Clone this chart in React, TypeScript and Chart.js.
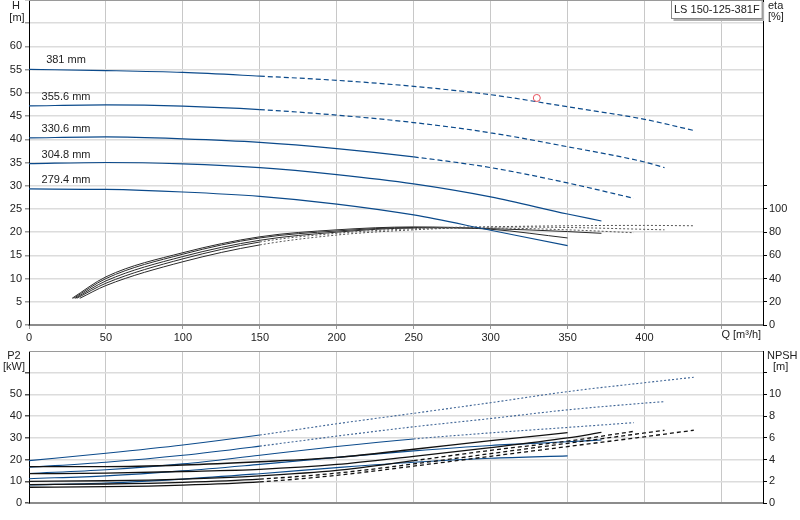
import { useEffect, useRef } from "react"
import { Chart, registerables, type ChartConfiguration, type Plugin } from "chart.js"

Chart.register(...registerables)

const pumpName = "LS 150-125-381F"
const impellers = [381, 355.6, 330.6, 304.8, 279.4]
// flow [m3/h] where each curve leaves the recommended range (drawn dashed)
const dashFrom = [135, 165, 245, null, null]

// flow points for H, P2 and NPSH of each impeller
const q381 = [0, 50, 100, 150, 200, 250, 300, 350, 400, 432]
const q355 = [0, 50, 100, 150, 200, 250, 300, 350, 400, 413]
const q330 = [0, 50, 100, 150, 200, 250, 300, 350, 393]
const q304 = [0, 50, 100, 150, 200, 250, 300, 350, 372]
const q279 = [0, 50, 100, 150, 200, 250, 300, 350]

// head H [m]
const h381 = [55.05, 54.8, 54.4, 53.6, 52.7, 51.4, 49.6, 47.0, 44.3, 41.9]
const h355 = [47.2, 47.4, 47.15, 46.4, 45.2, 43.6, 41.4, 38.4, 35.1, 33.9]
const h330 = [40.3, 40.5, 40.1, 39.35, 38.0, 36.2, 33.9, 30.6, 27.3]
const h304 = [34.75, 35.0, 34.7, 33.9, 32.4, 30.4, 27.6, 23.9, 22.4]
const h279 = [29.3, 29.2, 28.65, 27.7, 26.05, 23.7, 20.4, 17.1]

// efficiency eta [%]
const qe381 = [33, 50, 100, 150, 200, 250, 300, 350, 400, 432]
const e381 = [23, 34, 54.5, 69, 77.5, 82, 84.5, 85.5, 85.8, 85.5]
const qe355 = [31, 50, 100, 150, 200, 250, 300, 350, 413]
const e355 = [23, 36, 57, 71.5, 79, 83, 84.5, 84, 82]
const qe330 = [30, 50, 100, 150, 200, 250, 300, 350, 393]
const e330 = [23, 38, 59, 73, 80, 83.5, 83.5, 82, 79.5]
const qe304 = [29, 50, 100, 150, 200, 250, 300, 350, 372]
const e304 = [23, 40, 61, 75, 81, 84, 83, 80.5, 79]
const qe279 = [28, 50, 100, 150, 200, 250, 300, 350]
const e279 = [23, 41.5, 62.3, 76, 82, 84.5, 82.5, 75]

// shaft power P2 [kW]
const p381 = [19.5, 22.9, 26.7, 31.3, 36.5, 41.3, 46.2, 51.3, 55.4, 57.9]
const p355 = [16.5, 18.8, 22.0, 26.2, 30.8, 35.1, 38.9, 42.9, 46.0, 46.7]
const p330 = [13.6, 15.3, 18.0, 22.0, 26.0, 29.5, 32.3, 34.8, 37.0]
const p304 = [11.2, 12.5, 14.8, 17.8, 21.0, 24.0, 26.5, 28.2, 29.0]
const p279 = [8.3, 9.2, 11.0, 13.5, 16.3, 18.8, 20.6, 21.7]

// NPSH [m]
const n381 = [1.45, 1.5, 1.65, 1.95, 2.55, 3.4, 4.3, 5.2, 6.1, 6.7]
const n355 = [1.7, 1.75, 1.9, 2.2, 2.75, 3.6, 4.55, 5.5, 6.45, 6.7]
const n330 = [2.0, 2.05, 2.2, 2.5, 3.0, 3.9, 4.85, 5.7, 6.6]
const n304 = [2.7, 2.75, 2.9, 3.1, 3.55, 4.3, 5.1, 6.0, 6.5]
const n279 = [3.35, 3.35, 3.5, 3.8, 4.2, 4.95, 5.74, 6.48]

// duty point
const dutyQ = [330]
const dutyH = [48.9]

const qList = [q381, q355, q330, q304, q279]
const hList = [h381, h355, h330, h304, h279]
const qeList = [qe381, qe355, qe330, qe304, qe279]
const eList = [e381, e355, e330, e304, e279]
const pList = [p381, p355, p330, p304, p279]
const nList = [n381, n355, n330, n304, n279]

const blue = "#0b4a8b"
const font = '"Liberation Sans", Arial, sans-serif'

Chart.defaults.font.family = font
Chart.defaults.font.size = 11
Chart.defaults.color = "#222"

const pts = (xs: number[], ys: number[]) => xs.map((x, i) => ({ x, y: ys[i] }))

const outside = (c: any, from: number | null) => from !== null && (c.p0.parsed.x + c.p1.parsed.x) / 2 >= from

const dashAfter = (from: number | null, dash: number[], dashColor?: string) => ({
  borderDash: (c: any) => (outside(c, from) ? dash : undefined),
  borderColor: (c: any) => (dashColor && outside(c, from) ? dashColor : undefined),
})

// fixed axis sizes so the plot area sits where it does in the original
const fitWidth = (w: number) => (scale: any) => {
  scale.width = w
  scale.paddingTop = 0
  scale.paddingBottom = 0
}
const fitHeight = (h: number) => (scale: any) => {
  scale.height = h
  scale.paddingLeft = 0
  scale.paddingRight = 0
}

const xScale = (showLabels: boolean, height: number) => ({
  type: "linear" as const,
  min: 0,
  max: 477,
  afterFit: fitHeight(height),
  ticks: {
    display: showLabels,
    stepSize: 50,
    includeBounds: false,
    autoSkip: false,
    maxRotation: 0,
    padding: 2,
    callback: (v: any) => (v <= 400 ? v : ""),
  },
  grid: { color: "#c8c8c8", tickLength: 4, tickColor: "#999", drawTicks: showLabels },
  border: { color: "#8c8c8c", width: 2 },
})

const frame: Plugin = {
  id: "frame",
  afterDraw(chart) {
    const { ctx, chartArea: a } = chart
    ctx.save()
    ctx.strokeStyle = "#9a9a9a"
    ctx.lineWidth = 1
    ctx.beginPath()
    ctx.moveTo(a.left, a.top + 0.5)
    ctx.lineTo(a.right, a.top + 0.5)
    ctx.stroke()
    ctx.restore()
  },
}

const topText: Plugin = {
  id: "topText",
  afterDraw(chart) {
    const { ctx, chartArea: a, scales } = chart
    ctx.save()
    ctx.font = `11px ${font}`
    ctx.fillStyle = "#222"
    ctx.textBaseline = "middle"
    ctx.textAlign = "center"
    ctx.fillText("H", a.left - 13, a.top + 6)
    ctx.fillText("[m]", a.left - 12, a.top + 18)
    impellers.forEach((d, i) => {
      ctx.fillText(`${d} mm`, a.left + 37, scales.y.getPixelForValue(hList[i][0]) - 9)
    })
    ctx.textAlign = "left"
    ctx.fillText("eta", a.right + 5, a.top + 6)
    ctx.fillText("[%]", a.right + 5, a.top + 17)
    ctx.fillText("Q [m³/h]", scales.x.getPixelForValue(450), a.bottom + 10)

    // pump name box
    const w = ctx.measureText(pumpName).width + 5
    const bx = Math.round(a.right - w - 1) + 0.5
    ctx.fillStyle = "#b0b0b0"
    ctx.fillRect(bx + 2, a.top + 2, w, 19)
    ctx.fillStyle = "#fff"
    ctx.fillRect(bx, a.top, w, 18)
    ctx.strokeStyle = "#8a8a8a"
    ctx.strokeRect(bx, a.top + 0.5, w, 18)
    ctx.fillStyle = "#222"
    ctx.fillText(pumpName, bx + 2.5, a.top + 10)
    ctx.restore()
  },
}

const bottomText: Plugin = {
  id: "bottomText",
  afterDraw(chart) {
    const { ctx, chartArea: a } = chart
    ctx.save()
    ctx.font = `11px ${font}`
    ctx.fillStyle = "#222"
    ctx.textBaseline = "middle"
    ctx.textAlign = "center"
    ctx.fillText("P2", a.left - 15, a.top + 5)
    ctx.fillText("[kW]", a.left - 15, a.top + 16)
    ctx.textAlign = "left"
    ctx.fillText("NPSH", a.right + 4, a.top + 5)
    ctx.fillText("[m]", a.right + 10, a.top + 16)
    ctx.restore()
  },
}

function topConfig(): ChartConfiguration {
  const head = impellers.map((d, i) => ({
    label: `H ${d}`,
    data: pts(qList[i], hList[i]),
    yAxisID: "y",
    borderColor: blue,
    borderWidth: 1.2,
    pointRadius: 0,
    cubicInterpolationMode: "monotone" as const,
    segment: dashAfter(dashFrom[i], [5, 3]),
  }))
  const eta = impellers.map((d, i) => ({
    label: `eta ${d}`,
    data: pts(qeList[i], eList[i]),
    yAxisID: "eta",
    borderColor: "#2a2a2a",
    borderWidth: 1,
    pointRadius: 0,
    cubicInterpolationMode: "monotone" as const,
    segment: dashAfter(dashFrom[i], [2, 2], "#555"),
  }))
  const duty = {
    label: "duty",
    data: pts(dutyQ, dutyH),
    yAxisID: "y",
    showLine: false,
    pointRadius: 3.5,
    pointBorderWidth: 1,
    pointBorderColor: "#e8505b",
    pointBackgroundColor: "rgba(0,0,0,0)",
  }
  return {
    type: "line",
    data: { datasets: [duty, ...head, ...eta] as any },
    options: {
      responsive: false,
      devicePixelRatio: 1,
      animation: false,
      events: [],
      layout: { padding: 0, autoPadding: false },
      plugins: { legend: { display: false }, tooltip: { enabled: false } },
      scales: {
        x: xScale(true, 20),
        y: {
          position: "left",
          min: 0,
          max: 70,
          afterFit: fitWidth(29),
          ticks: { stepSize: 5, autoSkip: false, padding: 3, callback: (v: any) => (v <= 60 ? v : "") },
          grid: { color: "#dcdcdc", lineWidth: 1.5, tickLength: 4, tickColor: "#999" },
          border: { color: "#000", width: 1 },
        },
        eta: {
          position: "right",
          min: 0,
          max: 280,
          afterFit: fitWidth(37),
          afterBuildTicks: (s: any) => {
            s.ticks = s.ticks.filter((t: any) => t.value <= 120)
          },
          ticks: { stepSize: 20, autoSkip: false, padding: 2, callback: (v: any) => (v <= 100 ? v : "") },
          grid: { drawOnChartArea: false, tickLength: 4, tickColor: "#000" },
          border: { color: "#000", width: 1 },
        },
      } as any,
    },
    plugins: [frame, topText],
  }
}

function bottomConfig(): ChartConfiguration {
  const npsh = impellers.map((d, i) => ({
    label: `NPSH ${d}`,
    data: pts(qList[i], nList[i]),
    yAxisID: "npsh",
    borderColor: "#111",
    borderWidth: 1.3,
    pointRadius: 0,
    cubicInterpolationMode: "monotone" as const,
    segment: dashAfter(dashFrom[i], [4, 3]),
  }))
  const power = impellers.map((d, i) => ({
    label: `P2 ${d}`,
    data: pts(qList[i], pList[i]),
    yAxisID: "p2",
    borderColor: blue,
    borderWidth: 1.1,
    pointRadius: 0,
    cubicInterpolationMode: "monotone" as const,
    segment: dashAfter(dashFrom[i], [2, 2], "#3f6596"),
  }))
  return {
    type: "line",
    data: { datasets: [...npsh, ...power] as any },
    options: {
      responsive: false,
      devicePixelRatio: 1,
      animation: false,
      events: [],
      layout: { padding: { top: 6 }, autoPadding: false },
      plugins: { legend: { display: false }, tooltip: { enabled: false } },
      scales: {
        x: xScale(false, 17),
        p2: {
          position: "left",
          min: 0,
          max: 70,
          afterFit: fitWidth(29),
          afterBuildTicks: (s: any) => {
            s.ticks = s.ticks.filter((t: any) => t.value <= 60)
          },
          ticks: { stepSize: 10, autoSkip: false, padding: 3, callback: (v: any) => (v <= 50 ? v : "") },
          grid: { color: "#dcdcdc", lineWidth: 1.5, tickLength: 4, tickColor: "#555" },
          border: { color: "#000", width: 1 },
        },
        npsh: {
          position: "right",
          min: 0,
          max: 14,
          afterFit: fitWidth(37),
          afterBuildTicks: (s: any) => {
            s.ticks = s.ticks.filter((t: any) => t.value <= 12)
          },
          ticks: { stepSize: 2, autoSkip: false, padding: 2, callback: (v: any) => (v <= 10 ? v : "") },
          grid: { drawOnChartArea: false, tickLength: 4, tickColor: "#000" },
          border: { color: "#000", width: 1 },
        },
      } as any,
    },
    plugins: [frame, bottomText],
  }
}

export default function App() {
  const topRef = useRef<HTMLCanvasElement>(null)
  const bottomRef = useRef<HTMLCanvasElement>(null)

  useEffect(() => {
    if (!topRef.current || !bottomRef.current) return
    const top = new Chart(topRef.current, topConfig())
    const bottom = new Chart(bottomRef.current, bottomConfig())
    return () => {
      top.destroy()
      bottom.destroy()
    }
  }, [])

  return (
    <div style={{ position: "fixed", left: 0, top: 0, width: 800, height: 520, background: "#fff" }}>
      <canvas ref={topRef} width={800} height={345} style={{ display: "block" }} />
      <canvas ref={bottomRef} width={800} height={175} style={{ display: "block" }} />
    </div>
  )
}
